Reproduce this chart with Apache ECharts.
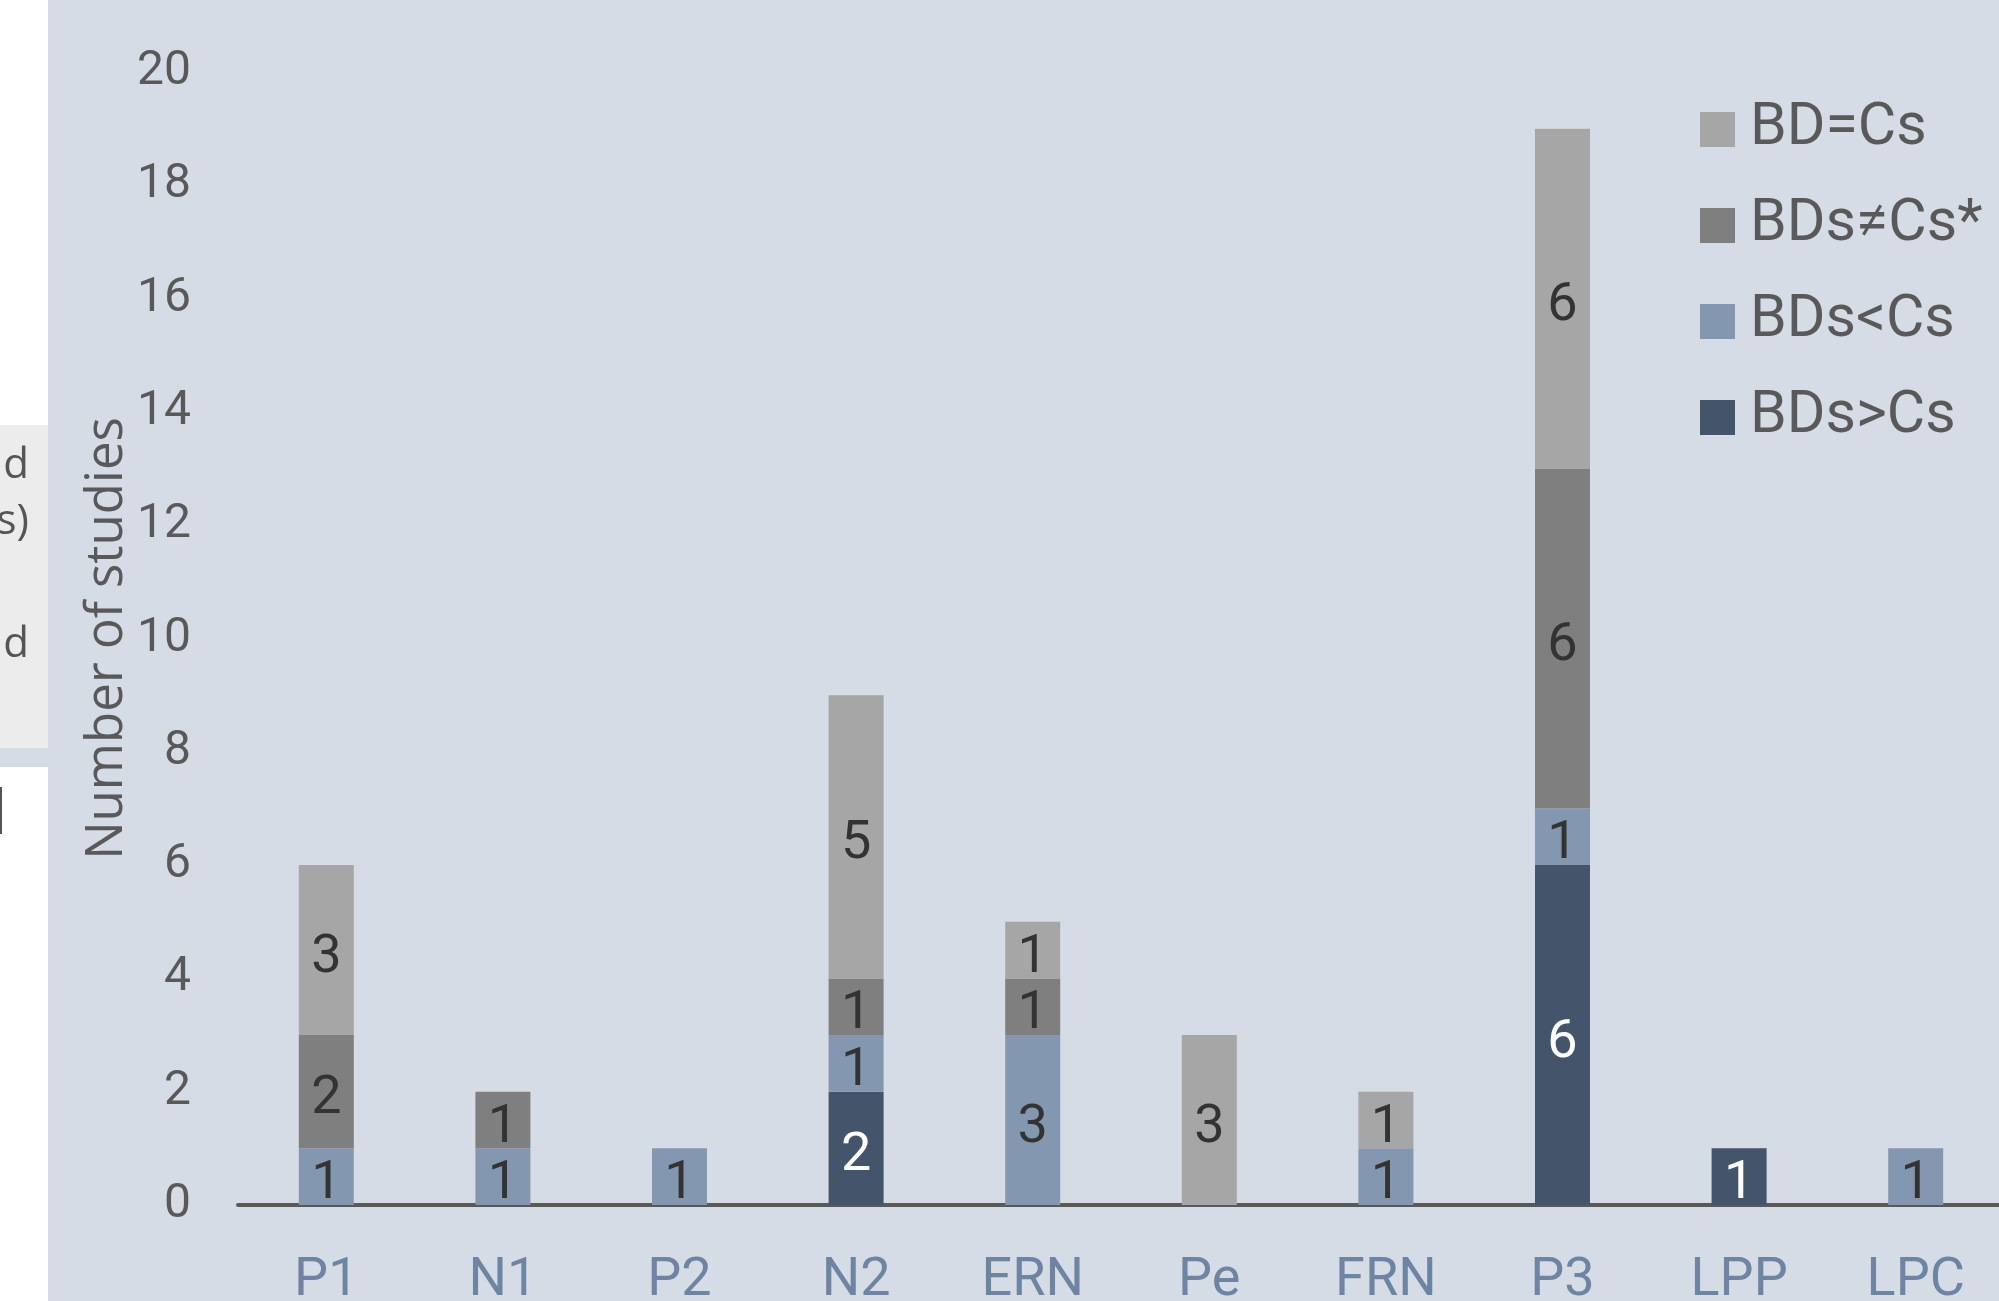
<!DOCTYPE html>
<html>
<head>
<meta charset="utf-8">
<title>Number of studies</title>
<script src="https://cdn.jsdelivr.net/npm/echarts@6/dist/echarts.min.js"></script>
<style>
  html, body { margin: 0; padding: 0; background: #ffffff; }
  #chart { width: 1999px; height: 1301px; }
</style>
</head>
<body>
<div id="chart"></div>
<script>
// data
const categories = ['P1', 'N1', 'P2', 'N2', 'ERN', 'Pe', 'FRN', 'P3', 'LPP', 'LPC']
const bdsGreater = [0, 0, 0, 2, 0, 0, 0, 6, 1, 0]   // BDs>Cs
const bdsLess = [1, 1, 1, 1, 3, 0, 1, 1, 0, 1]      // BDs<Cs
const bdsDiffer = [2, 1, 0, 1, 1, 0, 0, 6, 0, 0]    // BDs≠Cs*
const bdEqual = [3, 0, 0, 5, 1, 3, 1, 6, 0, 0]      // BD=Cs
const yTicks = { min: 0, max: 20, interval: 2 }

const dinFont = 'Roboto, sans-serif'
const textGrey = '#595959'

const chart = echarts.init(document.getElementById('chart'))

const makeSeries = (name, data, color, labelColor) => ({
  name,
  type: 'bar',
  stack: 'total',
  barWidth: 55,
  data,
  itemStyle: { color },
  label: {
    show: true,
    position: 'inside',
    offset: [0, 8],
    color: labelColor,
    fontFamily: dinFont,
    fontSize: 54,
    formatter: (p) => (p.value ? String(p.value) : ''),
  },
  emphasis: { disabled: true },
})

chart.setOption({
  backgroundColor: '#d6dce5',
  animation: false,
  grid: { left: 238, top: 72, width: 1766, height: 1133, outerBoundsMode: 'none' },
  legend: {
    orient: 'vertical',
    left: 1695,
    top: 95,
    padding: 5,
    itemWidth: 35,
    itemHeight: 35,
    itemGap: 37,
    icon: 'rect',
    data: ['BD=Cs', 'BDs≠Cs*', 'BDs<Cs', 'BDs>Cs'],
    textStyle: {
      color: textGrey,
      fontFamily: dinFont,
      fontSize: 59,
      lineHeight: 59,
      padding: [0, 0, 0, 10],
    },
  },
  xAxis: {
    type: 'category',
    data: categories,
    axisTick: { show: false },
    axisLine: { lineStyle: { color: '#595959', width: 4 } },
    axisLabel: {
      color: '#6e84a3',
      fontFamily: dinFont,
      fontSize: 54,
      margin: 49,
    },
  },
  yAxis: {
    type: 'value',
    min: yTicks.min,
    max: yTicks.max,
    interval: yTicks.interval,
    splitLine: { show: false },
    axisLine: { show: false },
    axisTick: { show: false },
    axisLabel: {
      color: textGrey,
      fontFamily: dinFont,
      fontSize: 48,
      margin: 47,
      padding: [14, 0, 0, 0],
    },
    name: 'Number of studies',
    nameLocation: 'middle',
    nameGap: 105,
    nameMoveOverlap: false,
    nameTextStyle: {
      color: textGrey,
      fontFamily: '"Open Sans", "Noto Sans", sans-serif',
      fontSize: 51,
    },
  },
  series: [
    makeSeries('BDs>Cs', bdsGreater, '#44546a', '#ffffff'),
    makeSeries('BDs<Cs', bdsLess, '#8497b0', '#333333'),
    makeSeries('BDs≠Cs*', bdsDiffer, '#7f7f7f', '#333333'),
    makeSeries('BD=Cs', bdEqual, '#a6a6a6', '#333333'),
  ],
  // neighbouring figure cut off at the left edge
  graphic: [
    { type: 'rect', shape: { x: 0, y: 0, width: 48, height: 425 }, style: { fill: '#ffffff' }, silent: true },
    { type: 'rect', shape: { x: 0, y: 425, width: 48, height: 323 }, style: { fill: '#ececec' }, silent: true },
    { type: 'rect', shape: { x: 0, y: 767, width: 48, height: 534 }, style: { fill: '#ffffff' }, silent: true },
    { type: 'rect', shape: { x: 0, y: 787, width: 2, height: 47 }, style: { fill: '#555555' }, silent: true },
    { type: 'text', x: 29, y: 466, style: { text: 'd', fill: '#555555', font: '42px "Open Sans", sans-serif', textAlign: 'right', textVerticalAlign: 'middle' }, silent: true },
    { type: 'text', x: 29, y: 522, style: { text: 's)', fill: '#555555', font: '42px "Open Sans", sans-serif', textAlign: 'right', textVerticalAlign: 'middle' }, silent: true },
    { type: 'text', x: 29, y: 645, style: { text: 'd', fill: '#555555', font: '42px "Open Sans", sans-serif', textAlign: 'right', textVerticalAlign: 'middle' }, silent: true },
  ],
})
</script>
</body>
</html>
